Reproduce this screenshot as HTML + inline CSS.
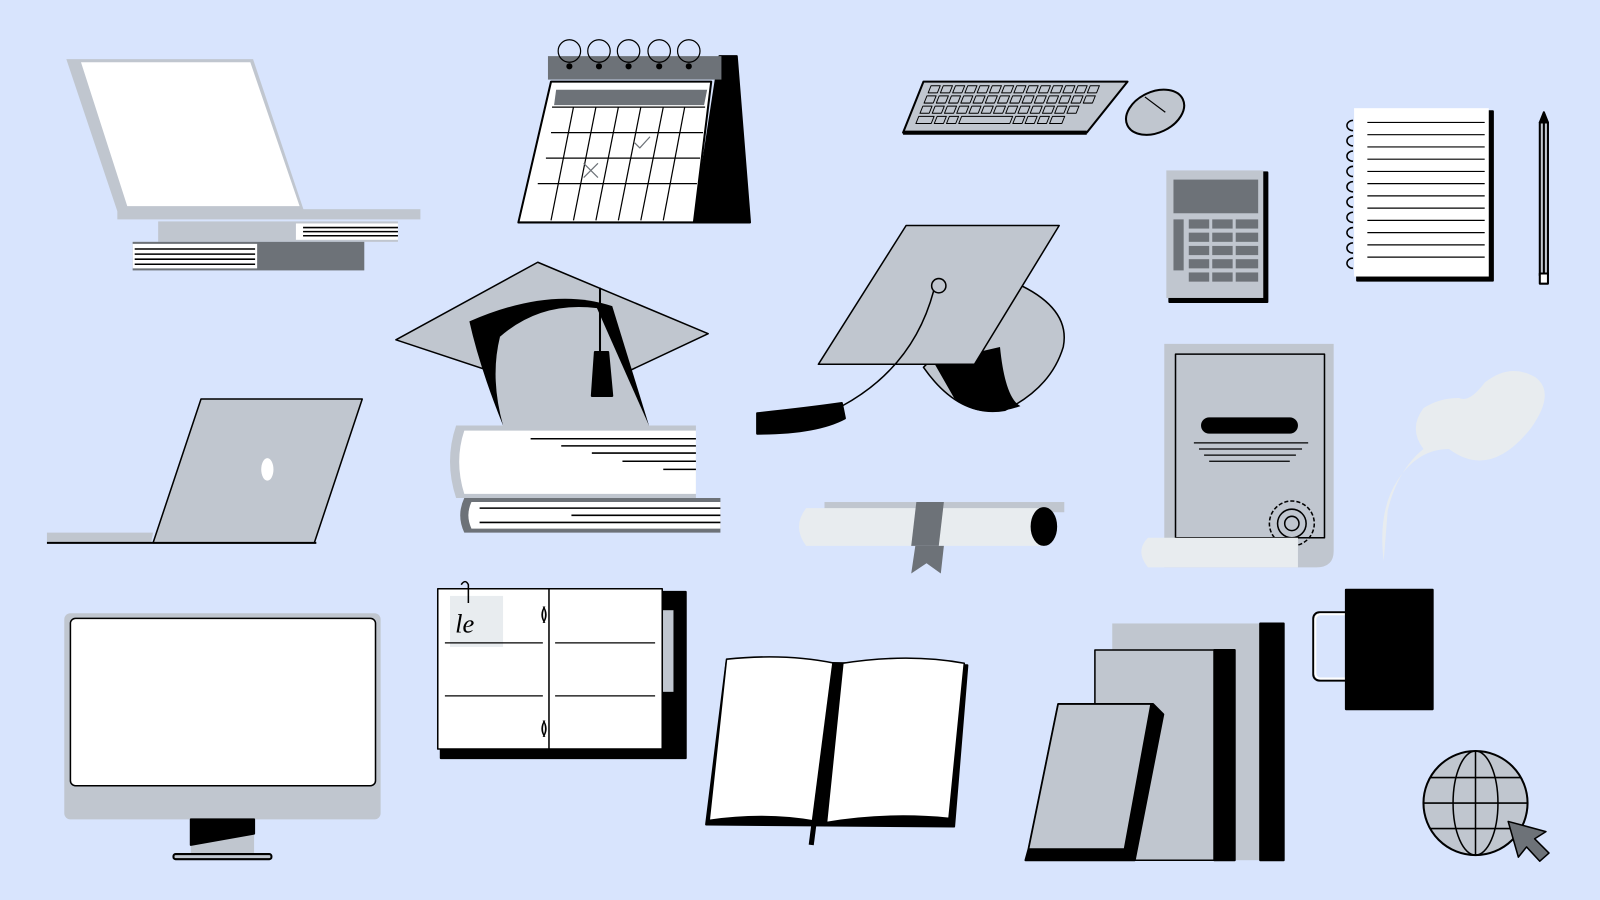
<!DOCTYPE html>
<html><head><meta charset="utf-8"><style>html,body{margin:0;padding:0;background:#d8e4fd;overflow:hidden}svg{display:block}</style></head>
<body>
<svg width="1600" height="900" viewBox="0 0 1568 882" preserveAspectRatio="none" xmlns="http://www.w3.org/2000/svg">
<rect width="1568" height="882" fill="#d8e4fd"/>
<g stroke="#000" stroke-width="2" stroke-linejoin="round">
<!-- laptop top-left -->
<polygon points="65,58 248,58 298,207 115,207" fill="#c0c6cf" stroke="none"/>
<polygon points="78,60 246,60 295,203 124,203" fill="#fff" stroke="#c0c6cf"/>
<rect x="115" y="205" width="297" height="10" fill="#c0c6cf" stroke="none"/>
<rect x="155" y="217" width="235" height="20" fill="#c0c6cf" stroke="none"/>
<rect x="290" y="219" width="100" height="16" fill="#fff" stroke="none"/>
<g stroke-width="1.5"><line x1="297" y1="223" x2="390" y2="223"/><line x1="297" y1="227" x2="390" y2="227"/><line x1="297" y1="231" x2="390" y2="231"/></g>
<rect x="130" y="237" width="227" height="28" fill="#6d7278" stroke="none"/>
<rect x="130" y="239" width="122" height="24" fill="#fff" stroke="none"/>
<g stroke-width="1.5"><line x1="132" y1="244" x2="250" y2="244"/><line x1="132" y1="249" x2="250" y2="249"/><line x1="132" y1="254" x2="250" y2="254"/><line x1="132" y1="259" x2="250" y2="259"/></g>
<!-- calendar -->
<polygon points="705,55 722,55 735,218 680,218" fill="#000"/>
<rect x="537" y="55" width="170" height="23" fill="#6d7278" stroke="none"/>
<polygon points="540,80 697,80 680,218 508,218" fill="#fff"/>
<polygon points="545,88 693,88 690,103 543,103" fill="#6d7278" stroke="none"/>
<g stroke-width="1.2" fill="none">
<line x1="540" y1="130" x2="689" y2="130"/><line x1="535" y1="155" x2="686" y2="155"/><line x1="527" y1="180" x2="683" y2="180"/>
<line x1="541" y1="105" x2="691" y2="105"/>
<line x1="562" y1="105" x2="540" y2="216"/><line x1="584" y1="105" x2="562" y2="216"/><line x1="606" y1="105" x2="584" y2="216"/><line x1="628" y1="105" x2="606" y2="216"/><line x1="650" y1="105" x2="628" y2="216"/><line x1="671" y1="105" x2="650" y2="216"/>
<path d="M572,160 l14,14 M586,160 l-14,14" stroke="#6d7278"/><path d="M622,140 l5,5 l10,-11" stroke="#6d7278"/>
<circle cx="558" cy="50" r="11"/><circle cx="587" cy="50" r="11"/><circle cx="616" cy="50" r="11"/><circle cx="646" cy="50" r="11"/><circle cx="675" cy="50" r="11"/>
</g>
<g fill="#000" stroke="none"><circle cx="558" cy="65" r="3"/><circle cx="587" cy="65" r="3"/><circle cx="616" cy="65" r="3"/><circle cx="646" cy="65" r="3"/><circle cx="675" cy="65" r="3"/></g>
<!-- keyboard -->
<polygon points="905,80 1105,80 1065,130 885,130" fill="#c0c6cf"/>
<line x1="885" y1="130" x2="1065" y2="130" stroke-width="4"/>
<g fill="#c0c6cf" stroke-width="1" transform="translate(34,0) skewX(-21.8)">
<rect x="912" y="84" width="9" height="7"/><rect x="924" y="84" width="9" height="7"/><rect x="936" y="84" width="9" height="7"/><rect x="948" y="84" width="9" height="7"/><rect x="960" y="84" width="9" height="7"/><rect x="972" y="84" width="9" height="7"/><rect x="984" y="84" width="9" height="7"/><rect x="996" y="84" width="9" height="7"/><rect x="1008" y="84" width="9" height="7"/><rect x="1020" y="84" width="9" height="7"/><rect x="1032" y="84" width="9" height="7"/><rect x="1044" y="84" width="9" height="7"/><rect x="1056" y="84" width="9" height="7"/><rect x="1068" y="84" width="9" height="7"/>
<rect x="912" y="94" width="9" height="7"/><rect x="924" y="94" width="9" height="7"/><rect x="936" y="94" width="9" height="7"/><rect x="948" y="94" width="9" height="7"/><rect x="960" y="94" width="9" height="7"/><rect x="972" y="94" width="9" height="7"/><rect x="984" y="94" width="9" height="7"/><rect x="996" y="94" width="9" height="7"/><rect x="1008" y="94" width="9" height="7"/><rect x="1020" y="94" width="9" height="7"/><rect x="1032" y="94" width="9" height="7"/><rect x="1044" y="94" width="9" height="7"/><rect x="1056" y="94" width="9" height="7"/><rect x="1068" y="94" width="9" height="7"/>
<rect x="912" y="104" width="9" height="7"/><rect x="924" y="104" width="9" height="7"/><rect x="936" y="104" width="9" height="7"/><rect x="948" y="104" width="9" height="7"/><rect x="960" y="104" width="9" height="7"/><rect x="972" y="104" width="9" height="7"/><rect x="984" y="104" width="9" height="7"/><rect x="996" y="104" width="9" height="7"/><rect x="1008" y="104" width="9" height="7"/><rect x="1020" y="104" width="9" height="7"/><rect x="1032" y="104" width="9" height="7"/><rect x="1044" y="104" width="9" height="7"/><rect x="1056" y="104" width="9" height="7"/>
<rect x="912" y="114" width="15" height="7"/><rect x="930" y="114" width="9" height="7"/><rect x="942" y="114" width="9" height="7"/><rect x="954" y="114" width="50" height="7"/><rect x="1007" y="114" width="9" height="7"/><rect x="1019" y="114" width="9" height="7"/><rect x="1031" y="114" width="9" height="7"/><rect x="1043" y="114" width="12" height="7"/>
</g>
<ellipse cx="1132" cy="110" rx="30" ry="20" fill="#c0c6cf" transform="rotate(-25 1132 110)"/>
<line x1="1122" y1="95" x2="1142" y2="110" stroke-width="1.2"/>
<!-- calculator -->
<rect x="1146" y="169" width="96" height="127" fill="#000"/>
<rect x="1143" y="167" width="95" height="125" fill="#c0c6cf" stroke="none"/>
<rect x="1150" y="176" width="83" height="33" fill="#6d7278" stroke="none"/>
<g fill="#6d7278" stroke="none">
<rect x="1150" y="215" width="10" height="50"/><rect x="1165" y="215" width="20" height="9"/><rect x="1188" y="215" width="20" height="9"/><rect x="1211" y="215" width="22" height="9"/>
<rect x="1165" y="228" width="20" height="9"/><rect x="1188" y="228" width="20" height="9"/><rect x="1211" y="228" width="22" height="9"/>
<rect x="1165" y="241" width="20" height="9"/><rect x="1188" y="241" width="20" height="9"/><rect x="1211" y="241" width="22" height="9"/>
<rect x="1165" y="254" width="20" height="9"/><rect x="1188" y="254" width="20" height="9"/><rect x="1211" y="254" width="22" height="9"/>
<rect x="1165" y="267" width="20" height="9"/><rect x="1188" y="267" width="20" height="9"/><rect x="1211" y="267" width="22" height="9"/>
</g>
<!-- notebook -->
<rect x="1330" y="109" width="133" height="166" fill="#000"/>
<rect x="1327" y="106" width="132" height="165" fill="#fff" stroke="none"/>
<g stroke-width="1.2"><line x1="1340" y1="120" x2="1455" y2="120"/><line x1="1340" y1="132" x2="1455" y2="132"/><line x1="1340" y1="144" x2="1455" y2="144"/><line x1="1340" y1="156" x2="1455" y2="156"/><line x1="1340" y1="168" x2="1455" y2="168"/><line x1="1340" y1="180" x2="1455" y2="180"/><line x1="1340" y1="192" x2="1455" y2="192"/><line x1="1340" y1="204" x2="1455" y2="204"/><line x1="1340" y1="216" x2="1455" y2="216"/><line x1="1340" y1="228" x2="1455" y2="228"/><line x1="1340" y1="240" x2="1455" y2="240"/><line x1="1340" y1="252" x2="1455" y2="252"/></g>
<g fill="none" stroke-width="1.5"><path d="M1326,118 a6,5 0 1 0 0,10 M1326,133 a6,5 0 1 0 0,10 M1326,148 a6,5 0 1 0 0,10 M1326,163 a6,5 0 1 0 0,10 M1326,178 a6,5 0 1 0 0,10 M1326,193 a6,5 0 1 0 0,10 M1326,208 a6,5 0 1 0 0,10 M1326,223 a6,5 0 1 0 0,10 M1326,238 a6,5 0 1 0 0,10 M1326,253 a6,5 0 1 0 0,10"/></g>
<!-- pencil -->
<rect x="1509" y="120" width="8" height="150" fill="#c0c6cf"/><line x1="1513" y1="120" x2="1513" y2="268" stroke-width="2"/><polygon points="1509,120 1517,120 1513,110" fill="#000"/><rect x="1509" y="268" width="8" height="10" fill="#fff"/>
<!-- grad cap on books -->
<path d="M447,417 H682 V488 H447 Q435,452 447,417Z" fill="#c0c6cf" stroke="none"/>
<path d="M455,422 H682 V484 H455 Q445,452 455,422Z" fill="#fff" stroke="none"/>
<g stroke-width="1.5"><line x1="520" y1="430" x2="682" y2="430"/><line x1="550" y1="437" x2="682" y2="437"/><line x1="580" y1="444" x2="682" y2="444"/><line x1="610" y1="452" x2="682" y2="452"/><line x1="650" y1="460" x2="682" y2="460"/></g>
<path d="M455,488 H706 V522 H455 Q447,505 455,488Z" fill="#6d7278" stroke="none"/>
<path d="M462,492 H706 V518 H462 Q456,505 462,492Z" fill="#fff" stroke="none"/>
<g stroke-width="1.5"><line x1="470" y1="498" x2="706" y2="498"/><line x1="560" y1="505" x2="706" y2="505"/><line x1="470" y1="512" x2="706" y2="512"/></g>
<polygon points="388,333 527,257 694,327 560,390" fill="#c0c6cf" stroke-width="1.5"/>
<path d="M460,315 Q540,280 600,300 L636,417 H493 Q470,360 460,315Z" fill="#000" stroke="none"/>
<path d="M490,330 Q530,295 585,302 L636,417 H493 Q480,370 490,330Z" fill="#c0c6cf" stroke="none"/>
<line x1="588" y1="282" x2="588" y2="345" stroke-width="2"/><path d="M583,345 L596,345 L600,388 L580,388Z" fill="#000"/>
<!-- grad cap right -->
<path d="M990,275 Q1050,300 1042,340 Q1030,380 985,402 Q940,410 905,360 Z" fill="#c0c6cf" stroke-width="1.5"/>
<path d="M915,355 L980,340 Q985,390 1000,398 Q960,412 935,390Z" fill="#000" stroke="none"/>
<polygon points="888,221 1038,221 955,357 802,357" fill="#c0c6cf" stroke-width="1.5"/>
<circle cx="920" cy="280" r="7" fill="none" stroke-width="1.5"/>
<path d="M915,285 Q895,360 825,398" fill="none" stroke-width="1.5"/>
<path d="M825,395 Q790,400 742,405 L742,425 Q800,425 828,410Z" fill="#000"/>
<!-- diploma -->
<rect x="808" y="492" width="235" height="10" fill="#c0c6cf" stroke="none"/>
<path d="M790,498 H1022 V535 H790 Q776,516 790,498Z" fill="#e8ecef" stroke="none"/>
<ellipse cx="1023" cy="516" rx="12" ry="18" fill="#000"/>
<path d="M898,492 H925 L920,535 H893Z" fill="#6d7278" stroke="none"/>
<path d="M897,535 L893,562 L908,552 L922,562 L925,535Z" fill="#6d7278" stroke="none"/>
<!-- certificate -->
<path d="M1141,337 H1307 V540 Q1307,556 1290,556 H1141Z" fill="#c0c6cf" stroke="none"/>
<rect x="1152" y="347" width="146" height="180" fill="#c0c6cf" stroke-width="1.5"/>
<rect x="1178" y="410" width="93" height="14" rx="7" fill="#000"/>
<g stroke-width="1.2"><line x1="1170" y1="434" x2="1282" y2="434"/><line x1="1175" y1="440" x2="1276" y2="440"/><line x1="1180" y1="446" x2="1270" y2="446"/><line x1="1185" y1="452" x2="1264" y2="452"/></g>
<circle cx="1266" cy="513" r="22" fill="none" stroke-width="1.5" stroke-dasharray="4 2"/><circle cx="1266" cy="513" r="14" fill="none" stroke-width="1.5"/><circle cx="1266" cy="513" r="7" fill="none" stroke-width="1.5"/>
<path d="M1125,527 H1272 V556 H1125 Q1112,540 1125,527Z" fill="#e8ecef" stroke="none"/>
<!-- smoke -->
<path d="M1356,550 Q1350,500 1370,470 Q1390,440 1420,440 Q1460,470 1500,420 Q1525,385 1505,370 Q1480,355 1455,375 Q1440,395 1430,390 Q1410,390 1395,400 Q1380,420 1395,440 Q1370,460 1360,500Z" fill="#e8ecef" stroke="none"/>
<!-- open laptop -->
<polygon points="197,391 355,391 308,532 150,532" fill="#c0c6cf" stroke-width="1.5"/>
<ellipse cx="262" cy="460" rx="6" ry="11" fill="#fff" stroke="none"/>
<polygon points="46,522 150,522 148,532 46,532" fill="#c0c6cf" stroke="none"/>
<line x1="46" y1="532" x2="310" y2="532" stroke-width="2"/>
<!-- monitor -->
<rect x="63" y="601" width="310" height="202" rx="6" fill="#c0c6cf" stroke="none"/>
<rect x="69" y="606" width="299" height="164" rx="5" fill="#fff" stroke-width="1.5"/>
<rect x="187" y="803" width="62" height="34" fill="#c0c6cf" stroke="none"/>
<polygon points="187,803 249,803 249,817 187,828" fill="#000"/>
<rect x="170" y="837" width="96" height="5" rx="2" fill="#c0c6cf"/>
<!-- planner -->
<rect x="432" y="580" width="240" height="163" fill="#000"/>
<rect x="646" y="598" width="14" height="80" fill="#c0c6cf" stroke="none"/>
<rect x="429" y="577" width="220" height="157" fill="#fff" stroke-width="1.5"/>
<line x1="538" y1="577" x2="538" y2="734" stroke-width="1.5"/>
<rect x="441" y="584" width="52" height="50" fill="#e8ecef" stroke="none"/>
<text x="446" y="620" font-family="Liberation Serif,serif" font-style="italic" font-size="26" stroke="none" fill="#000">le</text>
<g stroke-width="1.2"><line x1="436" y1="630" x2="532" y2="630"/><line x1="544" y1="630" x2="642" y2="630"/><line x1="436" y1="682" x2="532" y2="682"/><line x1="544" y1="682" x2="642" y2="682"/></g>
<text x="529" y="608" font-family="DejaVu Sans,sans-serif" font-size="18" stroke="none" fill="#000">≬</text>
<text x="529" y="720" font-family="DejaVu Sans,sans-serif" font-size="18" stroke="none" fill="#000">≬</text>
<path d="M452,573 q4,-6 7,0 l0,18" fill="none" stroke-width="1.5"/>
<!-- open book -->
<polygon points="712,648 948,652 935,810 692,808" fill="#000"/>
<path d="M712,646 Q770,640 818,650 L800,805 Q750,796 695,804Z" fill="#fff" stroke-width="1.5"/>
<path d="M826,650 Q890,640 945,650 L930,802 Q870,796 810,806Z" fill="#fff" stroke-width="1.5"/>
<line x1="818" y1="650" x2="795" y2="828" stroke-width="5"/>
<!-- books stack -->
<rect x="1090" y="611" width="168" height="232" fill="#c0c6cf" stroke="none"/>
<rect x="1235" y="611" width="23" height="232" fill="#000"/>
<rect x="1073" y="637" width="137" height="206" fill="#c0c6cf" stroke-width="1.5"/>
<rect x="1190" y="637" width="20" height="206" fill="#000"/>
<polygon points="1037,690 1130,690 1140,700 1112,843 1005,843 1008,832" fill="#000"/>
<polygon points="1037,690 1128,690 1102,832 1008,832" fill="#c0c6cf" stroke-width="1.5"/>
<!-- mug -->
<rect x="1287" y="600" width="40" height="67" rx="6" fill="none" stroke-width="2"/>
<rect x="1289" y="602" width="36" height="63" rx="5" fill="none" stroke="#fff" stroke-width="2"/>
<rect x="1319" y="578" width="85" height="117" fill="#000"/>
<!-- globe -->
<circle cx="1446" cy="787" r="51" fill="#c0c6cf" stroke-width="2"/>
<ellipse cx="1446" cy="787" rx="22" ry="51" fill="none" stroke-width="1.5"/>
<line x1="1446" y1="736" x2="1446" y2="838" stroke-width="1.5"/>
<line x1="1395" y1="787" x2="1497" y2="787" stroke-width="1.5"/>
<path d="M1402,762 H1490 M1402,812 H1490" fill="none" stroke-width="1.5"/>
<polygon points="1478,805 1515,815 1504,822 1518,836 1509,844 1496,830 1488,840" fill="#6d7278" stroke-width="1.5"/>
</g>
</svg>
</body></html>
